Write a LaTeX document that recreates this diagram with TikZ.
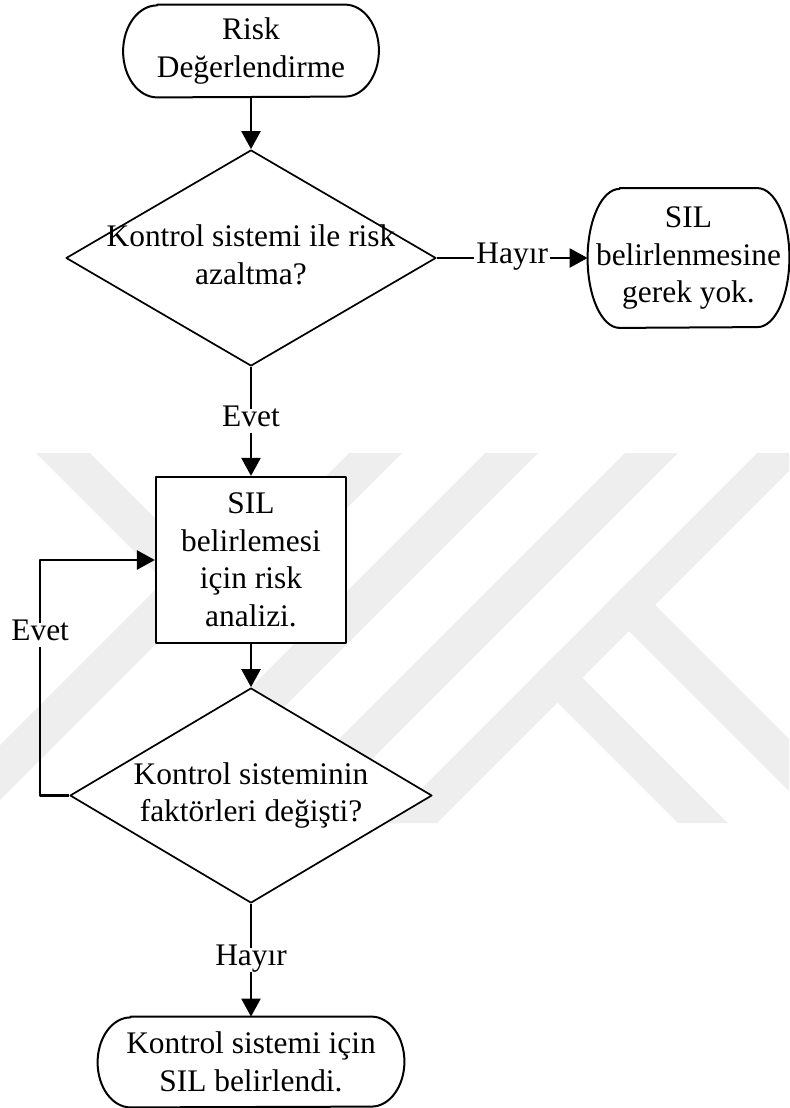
\documentclass[tikz,border=0pt]{standalone}
\usepackage{fontspec}
\setmainfont{Liberation Serif}
\usetikzlibrary{arrows.meta,shapes.geometric}
\definecolor{wmgray}{RGB}{238,238,238}

\begin{document}
\begin{tikzpicture}[
    x=0.5pt,
    y=-0.5pt,
    line join=round,
    font=\fontsize{15.7}{18.75}\selectfont,
    startstop/.style={rectangle,inner sep=0pt,align=center},
    decision/.style={diamond,draw,line width=0.85pt,fill=white,inner sep=0pt},
    process/.style={rectangle,draw,line width=1.1pt,fill=white,inner sep=0pt,align=center},
    outline/.style={line width=1pt},
    flow/.style={line width=1.2pt,-{Triangle[length=9pt,width=9.5pt]}},
    answer/.style={fill=white,inner xsep=1pt,inner ysep=1pt,text height=0.75em,text depth=0.25em},
    band/.style={fill=wmgray}
]

\useasboundingbox (0,0) rectangle (789,1108);

% -------------------------------------------------
% Watermark in the background
% -------------------------------------------------

\begin{scope}
\clip (0,453) rectangle (789,823);
\fill[band] (36,453) -- (90,453) -- (218.5,581.5) -- (-23,823) -- (-78,823) -- (164,581) -- cycle;
\fill[band] (349,453) -- (402,453) -- (235,620) -- (182,620) -- cycle;
\fill[band] (485,453) -- (538,453) -- (168,823) -- (115,823) -- cycle;
\fill[band] (625,453) -- (678,453) -- (308,823) -- (255,823) -- cycle;
\fill[band] (757,453) -- (807,453) -- (437,823) -- (387,823) -- cycle;
\fill[band] (557.5,652.5) -- (728,823) -- (678,823) -- (532.5,677.5) -- cycle;
\fill[band] (630,580) -- (850,800) -- (850,852) -- (604,606) -- cycle;
\end{scope}

% -------------------------------------------------
% Steps of the chart
% -------------------------------------------------

\node[startstop,minimum width=127.5pt,minimum height=46pt] (start) at (251,51) {Risk\\Değerlendirme};
\node[decision,minimum width=185pt,minimum height=108pt] (askreduce) at (251,258)
    {\makebox[0pt]{\begin{tabular}{@{}c@{}}Kontrol sistemi ile risk\\azaltma?\end{tabular}}};
\node[startstop,minimum width=100.5pt,minimum height=69.5pt] (nosil) at (688.5,258) {SIL\\belirlenmesine\\gerek yok.};
\node[process,minimum width=95pt,minimum height=83pt] (analysis) at (251,560) {SIL\\belirlemesi\\için risk\\analizi.};
\node[decision,minimum width=181pt,minimum height=107.5pt] (askchange) at (251,795.5)
    {\makebox[0pt]{\begin{tabular}{@{}c@{}}Kontrol sisteminin\\faktörleri değişti?\end{tabular}}};
\node[startstop,minimum width=153pt,minimum height=45pt] (silset) at (251,1062) {Kontrol sistemi için\\SIL belirlendi.};

% -------------------------------------------------
% Rounded ends of the start and stop boxes
% -------------------------------------------------

\foreach \term/\rx/\ry in {start/17pt/23pt, nosil/16pt/34.75pt, silset/16.5pt/22.5pt}
  \draw[outline] ([xshift=\rx]\term.north west) -- ([xshift=-\rx]\term.north east)
    arc[start angle=90,end angle=-90,x radius=\rx,y radius=\ry]
    -- ([xshift=\rx]\term.south west)
    arc[start angle=270,end angle=90,x radius=\rx,y radius=\ry] -- cycle;

% -------------------------------------------------
% Arrows
% -------------------------------------------------

\draw[flow] (start.south) -- (askreduce.north);
\draw[flow] (askreduce.east) -- node[answer] (no1) {Hayır} (nosil.west);
\draw[flow] (askreduce.south) -- node[answer] (yes1) {Evet} (analysis.north);
\draw[flow] (analysis.south) -- (askchange.north);
\draw[flow] (askchange.west) -- ++(-29,0) |- node[answer,pos=0.34] (yes2) {Evet} (analysis.west);
\draw[flow] (askchange.south) -- node[answer] (no2) {Hayır} (silset.north);

\end{tikzpicture}
\end{document}
